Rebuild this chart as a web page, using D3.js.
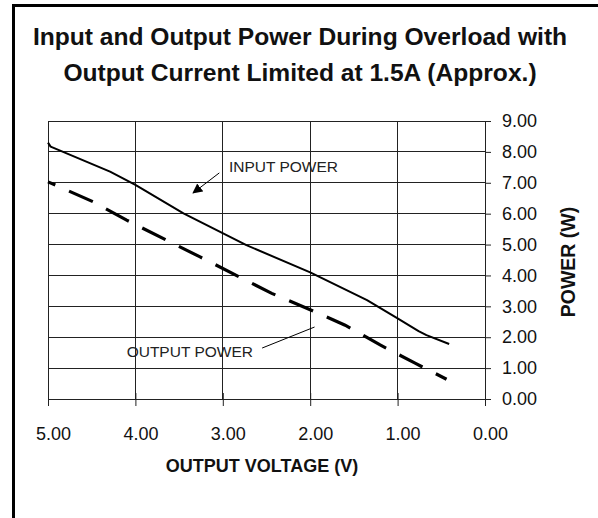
<!DOCTYPE html>
<html>
<head>
<meta charset="utf-8">
<script src="https://cdn.jsdelivr.net/npm/d3@7"></script>
<style>
  html, body { margin: 0; padding: 0; background: #fff; }
  svg { display: block; }
  text { font-family: "Liberation Sans", Arial, sans-serif; }
</style>
</head>
<body>
<script>
// ---- Data ----
const titleLines = ["Input and Output Power During Overload with", "Output Current Limited at 1.5A (Approx.)"];
const xTicks = [5, 4, 3, 2, 1, 0];
const yTicks = [0, 1, 2, 3, 4, 5, 6, 7, 8, 9];
const xAxisTitle = "OUTPUT VOLTAGE (V)";
const yAxisTitle = "POWER (W)";

// Input power (solid): output voltage (V) vs power (W)
const inputV = [5.0, 4.97, 4.29, 4.0, 3.45, 2.73, 2.0, 1.35, 1.0, 0.76, 0.67, 0.41];
const inputP = [8.30, 8.17, 7.36, 6.93, 6.01, 4.98, 4.10, 3.20, 2.61, 2.20, 2.07, 1.78];

// Output power (dashed)
const outputV = [5.0, 4.48, 4.10, 3.26, 2.44, 2.04, 1.60, 1.20, 0.80, 0.44];
const outputP = [7.03, 6.38, 5.79, 4.60, 3.42, 2.94, 2.39, 1.75, 1.16, 0.64];

// Annotations (data units)
const inputLabel = { text: "INPUT POWER", v: 2.93, p: 7.35 };
const inputArrow = { v1: 3.04, p1: 7.32, v2: 3.34, p2: 6.67 };
const outputLabel = { text: "OUTPUT POWER", v: 4.10, p: 1.36 };
const outputLeader = { v1: 2.55, p1: 1.65, v2: 1.95, p2: 2.33 };

// ---- Layout ----
const W = 598, H = 518;
const pL = 48, pR = 485, pT = 121, pB = 399;

const svg = d3.select("body").append("svg").attr("width", W).attr("height", H);

// frame
svg.append("path")
  .attr("d", `M13.5,${H} L13.5,5.5 L${W},5.5`)
  .attr("fill", "none").attr("stroke", "#000").attr("stroke-width", 3);

// title
svg.append("g").selectAll("text").data(titleLines).join("text")
  .attr("x", 300).attr("y", (d, i) => 45 + i * 36)
  .attr("text-anchor", "middle")
  .attr("font-weight", "bold").attr("font-size", 24.6).attr("fill", "#111")
  .text(d => d);

const x = d3.scaleLinear().domain([5, 0]).range([pL, pR]);
const y = d3.scaleLinear().domain([0, 9]).range([pB, pT]);

// grid
const grid = svg.append("g").attr("stroke", "#222").attr("stroke-width", 1).attr("shape-rendering", "crispEdges");
grid.selectAll("line.h").data(yTicks).join("line").attr("class", "h")
  .attr("x1", pL).attr("x2", pR).attr("y1", d => y(d)).attr("y2", d => y(d));
grid.selectAll("line.v").data(xTicks).join("line").attr("class", "v")
  .attr("x1", d => x(d)).attr("x2", d => x(d)).attr("y1", pT).attr("y2", pB);

// axes
const xAxis = svg.append("g").attr("transform", `translate(0,${pB})`)
  .call(d3.axisBottom(x).tickValues(xTicks).tickFormat(d3.format(".2f")).tickSize(7).tickSizeOuter(0).tickPadding(21));
xAxis.select(".domain").attr("stroke", "#222");
xAxis.selectAll(".tick line").attr("stroke", "#222").attr("y1", -6);
xAxis.selectAll(".tick text").attr("font-size", 18).attr("fill", "#111").attr("dx", 5)
  .attr("font-family", "Liberation Sans, Arial, sans-serif");

const yAxis = svg.append("g").attr("transform", `translate(${pR},0)`)
  .call(d3.axisRight(y).tickValues(yTicks).tickFormat(d3.format(".2f")).tickSize(6).tickSizeOuter(0).tickPadding(11));
yAxis.select(".domain").attr("stroke", "#222");
yAxis.selectAll(".tick line").attr("stroke", "#222");
yAxis.selectAll(".tick text").attr("font-size", 18).attr("fill", "#111")
  .attr("font-family", "Liberation Sans, Arial, sans-serif");

// axis titles
svg.append("text").attr("x", 262).attr("y", 472).attr("text-anchor", "middle")
  .attr("font-weight", "bold").attr("font-size", 18).attr("fill", "#111").text(xAxisTitle);
svg.append("text").attr("transform", "translate(575,262) rotate(-90)").attr("text-anchor", "middle")
  .attr("font-weight", "bold").attr("font-size", 19.5).attr("fill", "#111").text(yAxisTitle);

// lines
const line = d3.line().x(d => x(d[0])).y(d => y(d[1]));
const inputData = inputV.map((v, i) => [v, inputP[i]]);
const outputData = outputV.map((v, i) => [v, outputP[i]]);

svg.append("path").datum(inputData).attr("d", line)
  .attr("fill", "none").attr("stroke", "#000").attr("stroke-width", 2).attr("stroke-linejoin", "round");
svg.append("path").datum(outputData).attr("d", line)
  .attr("fill", "none").attr("stroke", "#000").attr("stroke-width", 3.2)
  .attr("stroke-dasharray", "26,15").attr("stroke-dashoffset", 18);

// annotations
svg.append("defs").append("marker").attr("id", "ah")
  .attr("viewBox", "0 0 10 10").attr("refX", 9).attr("refY", 5)
  .attr("markerWidth", 10).attr("markerHeight", 10).attr("markerUnits", "userSpaceOnUse")
  .attr("orient", "auto")
  .append("path").attr("d", "M0,0 L10,5 L0,10 Z").attr("fill", "#000");

svg.append("text").attr("x", x(inputLabel.v)).attr("y", y(inputLabel.p))
  .attr("font-size", 15.5).attr("fill", "#222").text(inputLabel.text);
svg.append("line")
  .attr("x1", x(inputArrow.v1)).attr("y1", y(inputArrow.p1))
  .attr("x2", x(inputArrow.v2)).attr("y2", y(inputArrow.p2))
  .attr("stroke", "#000").attr("stroke-width", 1).attr("marker-end", "url(#ah)");

svg.append("text").attr("x", x(outputLabel.v)).attr("y", y(outputLabel.p))
  .attr("font-size", 15.5).attr("fill", "#222").text(outputLabel.text);
svg.append("line")
  .attr("x1", x(outputLeader.v1)).attr("y1", y(outputLeader.p1))
  .attr("x2", x(outputLeader.v2)).attr("y2", y(outputLeader.p2))
  .attr("stroke", "#000").attr("stroke-width", 1);
</script>
</body>
</html>
